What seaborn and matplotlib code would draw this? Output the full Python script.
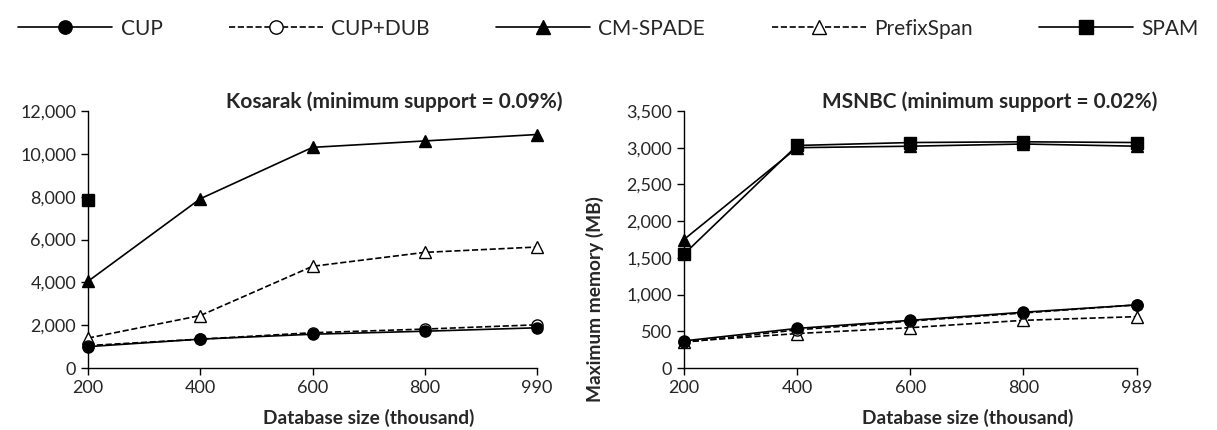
import numpy as np
import pandas as pd
import matplotlib
matplotlib.use('Agg')
import matplotlib.pyplot as plt
import seaborn as sns
from matplotlib.ticker import FuncFormatter

# Kosarak (minimum support = 0.09%)
kos_sizes = ['200', '400', '600', '800', '990']
kos_cup = [1000, 1350, 1580, 1720, 1880]
kos_cupdub = [1050, 1350, 1650, 1820, 2020]
kos_cmspade = [4050, 7900, 10300, 10600, 10900]
kos_prefixspan = [1400, 2450, 4750, 5400, 5650]
kos_spam = [7850, np.nan, np.nan, np.nan, np.nan]

# MSNBC (minimum support = 0.02%)
msn_sizes = ['200', '400', '600', '800', '989']
msn_cup = [370, 540, 650, 760, 860]
msn_cupdub = [350, 520, 640, 750, 860]
msn_cmspade = [1750, 3000, 3020, 3050, 3020]
msn_prefixspan = [360, 470, 550, 650, 700]
msn_spam = [1550, 3030, 3070, 3080, 3070]

algos = ['CUP', 'CUP+DUB', 'CM-SPADE', 'PrefixSpan', 'SPAM']
styles = {
    'CUP': dict(marker='o', markerfacecolor='black', linestyle='-', zorder=5),
    'CUP+DUB': dict(marker='o', markerfacecolor='white', linestyle='--', zorder=4),
    'CM-SPADE': dict(marker='^', markerfacecolor='black', linestyle='-', zorder=3),
    'PrefixSpan': dict(marker='^', markerfacecolor='white', linestyle='--', zorder=3),
    'SPAM': dict(marker='s', markerfacecolor='black', linestyle='-', zorder=3),
}

sns.set_style('ticks')
plt.rcParams['font.family'] = ['Lato', 'DejaVu Sans']

fig = plt.figure(figsize=(12.17, 4.30), dpi=100)
ax1 = fig.add_axes([0.0723, 0.144, 0.369, 0.598])
ax2 = fig.add_axes([0.562, 0.144, 0.372, 0.598])

panels = [
    (ax1, kos_sizes, [kos_cup, kos_cupdub, kos_cmspade, kos_prefixspan, kos_spam],
     'Kosarak (minimum support = 0.09%)', 12000, 2000, 1.056),
    (ax2, msn_sizes, [msn_cup, msn_cupdub, msn_cmspade, msn_prefixspan, msn_spam],
     'MSNBC (minimum support = 0.02%)', 3500, 500, 1.046),
]

for ax, sizes, series, title, ymax, ystep, tx in panels:
    pos = list(range(len(sizes)))
    for name, vals in zip(algos, series):
        df = pd.DataFrame({'x': pos, 'y': vals}).dropna()
        sns.lineplot(data=df, x='x', y='y', ax=ax, color='black', linewidth=1.2,
                     markersize=8, markeredgecolor='black', markeredgewidth=1.0,
                     clip_on=False, label=name, legend=False, **styles[name])
    if ax.get_legend() is not None:
        ax.get_legend().remove()
    ax.set_xlim(0, len(sizes) - 1)
    ax.set_xticks(pos)
    ax.set_xticklabels(sizes)
    ax.set_ylim(0, ymax)
    ax.set_yticks(np.arange(0, ymax + 1, ystep))
    ax.yaxis.set_major_formatter(FuncFormatter(lambda v, p: f'{v:,.0f}'))
    ax.tick_params(labelsize=13, length=5, width=1, color='black')
    for s in ['top', 'right']:
        ax.spines[s].set_visible(False)
    for s in ['left', 'bottom']:
        ax.spines[s].set_color('black')
        ax.spines[s].set_linewidth(1)
    ax.set_xlabel('Database size (thousand)', fontsize=13.8, fontweight='bold')
    ax.xaxis.label.set_va('center')
    ax.xaxis.set_label_coords(0.626, -0.195)
    ax.set_ylabel('')
    ax.text(tx, 1.035, title, transform=ax.transAxes, ha='right', va='center',
            fontsize=15, fontweight='bold')

ax2.set_ylabel('Maximum memory (MB)', fontsize=13.8, fontweight='bold')
ax2.yaxis.label.set_va('center')
ax2.yaxis.set_label_coords(-0.196, 0.27)

handles, labels = ax1.get_legend_handles_labels()
fig.legend(handles, labels, loc='upper center', bbox_to_anchor=(0.5, 1.0), ncol=5,
           frameon=False, fontsize=15, handlelength=4.5, columnspacing=3.2,
           handletextpad=0.4, markerscale=1.2)

fig.savefig('out.png', dpi=100)
